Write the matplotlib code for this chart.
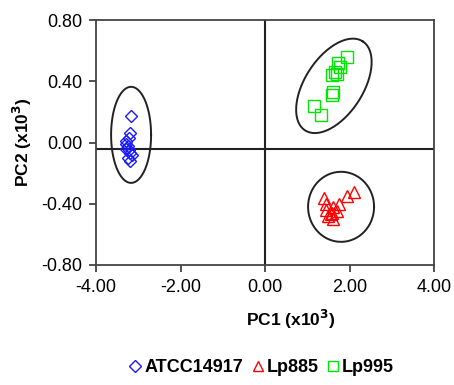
import numpy as np
import matplotlib.pyplot as plt

plt.rcParams['font.family'] = ['Liberation Sans', 'DejaVu Sans']

# PCA scores (x10^3)
atcc_pc1 = [-3.18, -3.20, -3.22, -3.30, -3.28, -3.25, -3.30, -3.22, -3.20, -3.15, -3.25, -3.20]
atcc_pc2 = [0.17, 0.06, 0.03, 0.01, -0.01, -0.02, -0.04, -0.05, -0.07, -0.08, -0.10, -0.12]

lp885_pc1 = [1.40, 1.45, 1.55, 1.60, 1.50, 1.70, 1.75, 1.62, 1.95, 2.10, 1.45, 1.58]
lp885_pc2 = [-0.36, -0.44, -0.47, -0.50, -0.48, -0.45, -0.40, -0.42, -0.35, -0.32, -0.40, -0.46]

lp995_pc1 = [1.94, 1.73, 1.66, 1.59, 1.78, 1.61, 1.58, 1.16, 1.32, 1.70]
lp995_pc2 = [0.56, 0.52, 0.46, 0.44, 0.49, 0.33, 0.31, 0.24, 0.18, 0.45]

# group ellipses: centre x, centre y, semi-axes (pixels), tilt (deg)
ell_cx = [-3.17, 1.80, 1.63]
ell_cy = [0.05, -0.42, 0.37]
ell_a = [20, 33, 53]
ell_b = [48, 35, 29]
ell_ang = [0, 0, 57]

fig = plt.figure(figsize=(4.54, 3.85), dpi=100)
ax = fig.add_axes([0.2115, 0.3117, 0.7445, 0.6363])

ax.plot(atcc_pc1, atcc_pc2, 'D', ms=6.5, mfc='none', mec='#1a1aff', mew=1.0, label='ATCC14917')
ax.plot(lp885_pc1, lp885_pc2, '^', ms=8, mfc='none', mec='#ff0000', mew=1.0, label='Lp885')
ax.plot(lp995_pc1, lp995_pc2, 's', ms=8, mfc='none', mec='#00e600', mew=1.0, label='Lp995')

# pixel scale of the axes, used to draw the ellipses
px_x = 42.25
px_y = 153.0
t = np.linspace(0, 2 * np.pi, 200)
for cx, cy, a, b, ang in zip(ell_cx, ell_cy, ell_a, ell_b, ell_ang):
    th = np.radians(ang)
    u = a * np.cos(t) * np.cos(th) - b * np.sin(t) * np.sin(th)
    v = a * np.cos(t) * np.sin(th) + b * np.sin(t) * np.cos(th)
    ax.plot(cx + u / px_x, cy + v / px_y, color='#222222', lw=1.4)

ax.axvline(0.0, color='#222222', lw=1.5, zorder=0)
ax.axhline(-0.04, color='#222222', lw=1.5, zorder=0)

ax.set_xlim(-4, 4)
ax.set_ylim(-0.8, 0.8)
ax.set_xticks([-4, -2, 0, 2, 4])
ax.set_yticks([-0.8, -0.4, 0, 0.4, 0.8])
ax.set_xticklabels(['-4.00', '-2.00', '0.00', '2.00', '4.00'])
ax.set_yticklabels(['-0.80', '-0.40', '0.00', '0.40', '0.80'])
ax.tick_params(labelsize=13, length=5, width=1.2, color='#333333', pad=5)
for s in ax.spines.values():
    s.set_color('#444444')
    s.set_linewidth(1.3)

ax.set_xlabel(r'PC1 (x10$^{\mathbf{3}}$)', fontsize=12.5, fontweight='bold', labelpad=9, x=0.577)
ax.set_ylabel(r'PC2 (x10$^{\mathbf{3}}$)', fontsize=12.5, fontweight='bold', labelpad=5)

fig.legend(loc='center', bbox_to_anchor=(0.577, 0.045), ncol=3, frameon=False,
           prop={'weight': 'bold', 'size': 13}, handlelength=0.6, handletextpad=0.2,
           columnspacing=0.5, markerscale=0.9)

fig.savefig('out.png', dpi=100)
